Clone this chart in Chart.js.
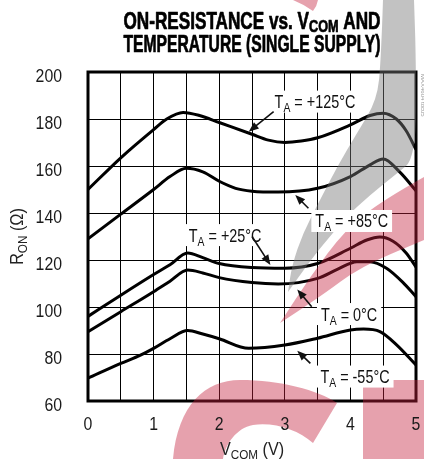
<!DOCTYPE html>
<html>
<head>
<meta charset="utf-8">
<script src="https://cdn.jsdelivr.net/npm/chart.js@4.4.1/dist/chart.umd.min.js"></script>
<style>
  html, body { margin: 0; padding: 0; background: #fff; }
  canvas { display: block; }
</style>
</head>
<body>
<canvas id="ronChart" width="424" height="459"></canvas>
<script>
// curves (V, ohms)
const vcom125 = [0, 0.5, 1.0, 1.2, 1.45, 1.7, 2.0, 2.5, 2.75, 3.0, 3.25, 3.5, 4.0, 4.3, 4.5, 4.7, 4.85, 5.0];
const ron125  = [150, 163.5, 175.5, 180, 182.8, 181.5, 178.5, 173.5, 171, 170, 170.6, 172, 177.5, 181.5, 182.5, 180, 175, 167];

const vcom85 = [0, 0.5, 1.0, 1.25, 1.5, 1.75, 2.0, 2.25, 2.5, 2.9, 3.5, 4.0, 4.3, 4.5, 4.75, 5.0];
const ron85  = [129, 139.5, 150, 155.5, 159, 157.5, 153.5, 150.5, 149.3, 148.9, 150.5, 155.5, 160.5, 163, 157.5, 149.5];

const vcom25 = [0, 0.5, 1.0, 1.25, 1.52, 1.75, 2.0, 2.5, 3.0, 3.5, 4.0, 4.25, 4.45, 4.65, 4.85, 5.0];
const ron25  = [96, 105, 113.8, 118, 123, 121, 118.5, 116.8, 116.5, 118.5, 125, 128.5, 129.8, 128, 123, 117];

const vcom0 = [0, 0.5, 1.0, 1.25, 1.52, 1.75, 2.0, 2.5, 2.9, 3.5, 3.8, 4.1, 4.3, 4.55, 4.8, 5.0];
const ron0  = [89.5, 98, 106.5, 111, 115.7, 114.5, 112.5, 110.4, 109.8, 112.2, 116, 119.3, 119.3, 116.5, 110.5, 104.4];

const vcomM55 = [0, 0.5, 0.8, 1.0, 1.25, 1.52, 1.75, 2.0, 2.45, 3.0, 3.5, 4.0, 4.2, 4.45, 4.7, 5.0];
const ronM55  = [69.7, 76, 79.5, 82.4, 86.5, 90, 88.5, 86.5, 82.4, 83.8, 86.7, 90.2, 90.6, 89.5, 84, 75.3];

const xTicks = [0, 1, 2, 3, 4, 5];
const yTicks = [60, 80, 100, 120, 140, 160, 180, 200];

// curve labels: text, label centre, arrow start, arrow tip (data units)
const labelTemps = ["+125°C", "+85°C", "+25°C", "0°C", "-55°C"];
const labelAt    = [[3.46, 187.4], [4.02, 136.6], [2.09, 130.6], [3.98, 97.0], [4.07, 70.4]];
const arrowFrom  = [[2.83, 183.1], [3.36, 142.0], [2.50, 130.0], [3.41, 100.1], [3.39, 76.0]];
const arrowTo    = [[2.45, 174.6], [3.16, 147.7], [2.78, 117.9], [3.19, 107.5], [3.19, 81.4]];

const FONT = "'Liberation Sans', Arial, sans-serif";

function setFont(ctx, p) {
    ctx.font = `${p.w || "normal"} ${p.s}px ${FONT}`;
}

function richWidth(ctx, parts) {
    let total = 0;
    parts.forEach(p => { setFont(ctx, p); total += ctx.measureText(p.t).width; });
    return total;
}

// draws mixed-size text (subscripts) squeezed horizontally by sx, y is the baseline
function drawRich(ctx, parts, x, y, align, sx, heavy) {
    const total = richWidth(ctx, parts);
    ctx.save();
    ctx.translate(x, y);
    ctx.scale(sx, 1);
    let cx = align === "center" ? -total / 2 : (align === "right" ? -total : 0);
    ctx.textAlign = "left";
    ctx.textBaseline = "alphabetic";
    if (heavy) { ctx.strokeStyle = ctx.fillStyle; ctx.lineWidth = heavy; ctx.lineJoin = "round"; }
    parts.forEach(p => {
        setFont(ctx, p);
        ctx.fillText(p.t, cx, p.dy || 0);
        if (heavy) ctx.strokeText(p.t, cx, p.dy || 0);
        cx += ctx.measureText(p.t).width;
    });
    ctx.restore();
    return total * sx;
}

// smooth outline through a list of points (quadratic through midpoints)
function smoothThrough(ctx, pts, first) {
    if (first) ctx.moveTo(pts[0][0], pts[0][1]); else ctx.lineTo(pts[0][0], pts[0][1]);
    for (let i = 1; i < pts.length - 1; i++) {
        const mx = (pts[i][0] + pts[i + 1][0]) / 2, my = (pts[i][1] + pts[i + 1][1]) / 2;
        ctx.quadraticCurveTo(pts[i][0], pts[i][1], mx, my);
    }
    const last = pts[pts.length - 1];
    ctx.lineTo(last[0], last[1]);
}

function drawWatermark(ctx) {
    ctx.save();
    // grey swoosh
    ctx.fillStyle = "rgba(120,120,120,0.45)";
    ctx.beginPath();
    smoothThrough(ctx, [[383, 0], [381, 60], [377, 100], [357, 133], [337, 167], [320, 200], [303, 233], [292, 265], [288, 292]], true);
    smoothThrough(ctx, [[288, 292], [312, 258], [333, 233], [345, 218], [370, 195], [395, 175], [416, 158], [416, 60], [414, 0]], false);
    ctx.closePath();
    ctx.fill();
    // red swoosh
    ctx.fillStyle = "rgba(195,30,60,0.42)";
    ctx.beginPath();
    smoothThrough(ctx, [[424, 177], [383, 200], [345, 230], [310, 277], [280, 323]], true);
    smoothThrough(ctx, [[280, 323], [320, 297], [360, 267], [424, 240]], false);
    ctx.closePath();
    ctx.fill();
    // small red tip at top
    ctx.beginPath();
    ctx.moveTo(293, 0);
    ctx.lineTo(318, 0);
    ctx.quadraticCurveTo(317, 6, 313, 11);
    ctx.quadraticCurveTo(303, 4, 293, 0);
    ctx.fill();
    // "c" under the axis
    ctx.beginPath();
    ctx.moveTo(173, 459);
    ctx.bezierCurveTo(178, 405, 205, 380, 240, 380);
    ctx.bezierCurveTo(280, 380, 318, 390, 337, 403);
    ctx.lineTo(313, 443);
    ctx.bezierCurveTo(298, 430, 275, 422, 253, 425);
    ctx.bezierCurveTo(236, 428, 225, 445, 223, 459);
    ctx.closePath();
    ctx.fill();
    ctx.fillRect(363, 380, 61, 79);
    ctx.restore();
}

const decorPlugin = {
    id: "decor",
    beforeDraw(chart) {
        const ctx = chart.ctx;
        ctx.save();
        ctx.fillStyle = "#fff";
        ctx.fillRect(0, 0, chart.width, chart.height);
        ctx.restore();
    },
    afterDatasetsDraw(chart) {
        const ctx = chart.ctx;
        const area = chart.chartArea;
        ctx.save();
        ctx.strokeStyle = "#000";
        ctx.lineWidth = 3;
        ctx.strokeRect(area.left, area.top, area.right - area.left, area.bottom - area.top);
        ctx.restore();
        drawWatermark(ctx);
    },
    afterDraw(chart) {
        const ctx = chart.ctx;
        const area = chart.chartArea;
        const xs = chart.scales.x, ys = chart.scales.y;
        ctx.save();

        // tick labels
        ctx.fillStyle = "#1a1a1a";
        yTicks.forEach(v => {
            drawRich(ctx, [{ t: String(v), s: 18 }], 62, ys.getPixelForValue(v) + 9.5, "right", 0.88);
        });
        xTicks.forEach(v => {
            drawRich(ctx, [{ t: String(v), s: 18 }], xs.getPixelForValue(v), 429.5, "center", 0.88);
        });

        // curve labels and arrows
        ctx.strokeStyle = "#111";
        labelTemps.forEach((t, i) => {
            const parts = [{ t: "T", s: 18 }, { t: "A", s: 13, dy: 4 }, { t: " = " + t, s: 18 }];
            const w = richWidth(ctx, parts) * 0.8;
            const cx = xs.getPixelForValue(labelAt[i][0]);
            const cy = ys.getPixelForValue(labelAt[i][1]);
            ctx.fillStyle = "#fff";
            ctx.fillRect(cx - w / 2 - 4, cy - 11, w + 8, 22);
            ctx.fillStyle = "#111";
            drawRich(ctx, parts, cx, cy + 6.5, "center", 0.8);

            const x1 = xs.getPixelForValue(arrowFrom[i][0]), y1 = ys.getPixelForValue(arrowFrom[i][1]);
            const x2 = xs.getPixelForValue(arrowTo[i][0]), y2 = ys.getPixelForValue(arrowTo[i][1]);
            const a = Math.atan2(y2 - y1, x2 - x1);
            ctx.lineWidth = 1.6;
            ctx.beginPath();
            ctx.moveTo(x1, y1);
            ctx.lineTo(x2 - 6 * Math.cos(a), y2 - 6 * Math.sin(a));
            ctx.stroke();
            ctx.beginPath();
            ctx.moveTo(x2, y2);
            ctx.lineTo(x2 - 10 * Math.cos(a) + 4 * Math.sin(a), y2 - 10 * Math.sin(a) - 4 * Math.cos(a));
            ctx.lineTo(x2 - 10 * Math.cos(a) - 4 * Math.sin(a), y2 - 10 * Math.sin(a) + 4 * Math.cos(a));
            ctx.closePath();
            ctx.fill();
        });

        // title, squeezed to the width of the original
        ctx.fillStyle = "#000";
        const titleCx = (area.left + area.right) / 2;
        const line1 = [{ t: "ON-RESISTANCE vs. V", s: 23, w: "bold" }, { t: "COM", s: 17, w: "bold", dy: 3 }, { t: " AND", s: 23, w: "bold" }];
        const line2 = [{ t: "TEMPERATURE (SINGLE SUPPLY)", s: 23, w: "bold" }];
        [[line1, 28.5], [line2, 52]].forEach(([parts, base]) => {
            drawRich(ctx, parts, titleCx, base, "center", 257 / richWidth(ctx, parts), 0.7);
        });

        // axis titles
        ctx.fillStyle = "#222";
        drawRich(ctx, [{ t: "V", s: 18 }, { t: "COM", s: 13, dy: 4 }, { t: " (V)", s: 18 }], titleCx, 455, "center", 0.9);
        ctx.save();
        ctx.translate(23, (area.top + area.bottom) / 2);
        ctx.rotate(-Math.PI / 2);
        drawRich(ctx, [{ t: "R", s: 18 }, { t: "ON", s: 13, dy: 4 }, { t: " (Ω)", s: 18 }], 0, 0, "center", 0.9);
        ctx.restore();

        // figure code down the right margin
        ctx.save();
        ctx.translate(421, area.top + 2);
        ctx.rotate(Math.PI / 2);
        ctx.fillStyle = "#999";
        ctx.font = `6px ${FONT}`;
        ctx.textAlign = "left";
        ctx.fillText("MAX4604 toc05", 0, 0);
        ctx.restore();

        ctx.restore();
    }
};

function curve(xs, ys) {
    return {
        data: xs.map((x, i) => ({ x: x, y: ys[i] })),
        borderColor: "#000",
        borderWidth: 3,
        pointRadius: 0,
        cubicInterpolationMode: "monotone",
        fill: false
    };
}

new Chart(document.getElementById("ronChart").getContext("2d"), {
    type: "line",
    data: {
        datasets: [
            curve(vcom125, ron125),
            curve(vcom85, ron85),
            curve(vcom25, ron25),
            curve(vcom0, ron0),
            curve(vcomM55, ronM55)
        ]
    },
    options: {
        responsive: false,
        animation: false,
        devicePixelRatio: 1,
        layout: { padding: { top: 72, right: 8, left: 0, bottom: 0 } },
        plugins: { legend: { display: false }, tooltip: { enabled: false } },
        scales: {
            x: {
                type: "linear",
                min: 0,
                max: 5,
                afterFit: s => { s.height = 58; },
                ticks: { stepSize: 0.5, display: false },
                grid: { color: "#000", lineWidth: 1, drawTicks: false },
                border: { display: false }
            },
            y: {
                min: 60,
                max: 200,
                afterFit: s => { s.width = 88; },
                ticks: { stepSize: 20, display: false },
                grid: { color: "#000", lineWidth: 1, drawTicks: false },
                border: { display: false }
            }
        }
    },
    plugins: [decorPlugin]
});
</script>
</body>
</html>
